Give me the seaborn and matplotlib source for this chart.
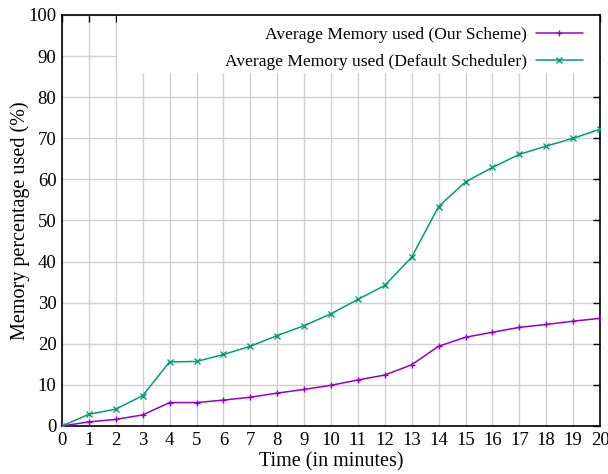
import matplotlib
matplotlib.use("Agg")
import matplotlib.pyplot as plt
from matplotlib.patches import Rectangle
import seaborn as sns
import pandas as pd

minutes = list(range(21))
our_scheme = [0, 1.0, 1.6, 2.7, 5.7, 5.7, 6.3, 7.0, 8.0, 8.9, 9.9, 11.2, 12.4, 14.9, 19.4, 21.6, 22.8, 24.0, 24.7, 25.5, 26.2]
default_sched = [0, 2.85, 4.1, 7.4, 15.6, 15.7, 17.4, 19.4, 22.0, 24.4, 27.3, 30.8, 34.2, 41.1, 53.4, 59.4, 62.9, 66.1, 68.1, 70.0, 72.2]
labels = ["Average Memory used (Our Scheme)", "Average Memory used (Default Scheduler)"]
colors = ["#9400d3", "#009e73"]
markers = ["+", "x"]

sns.set_style("white")
plt.rcParams['font.family'] = ['Liberation Serif', 'DejaVu Serif']
plt.rcParams['text.color'] = 'black'
plt.rcParams['axes.labelcolor'] = 'black'
plt.rcParams['xtick.color'] = 'black'
plt.rcParams['ytick.color'] = 'black'

fig = plt.figure(figsize=(6.08, 4.74), dpi=100)
ax = fig.add_axes([62/608, 1 - 426/474, (600-62)/608, (426-15)/474])

for vals, lab, col, mk in zip([our_scheme, default_sched], labels, colors, markers):
    df = pd.DataFrame({"t": minutes, "v": vals})
    sns.lineplot(data=df, x="t", y="v", color=col, marker=mk, label=lab,
                 linewidth=1.1, markersize=5, markeredgewidth=1.0,
                 markeredgecolor=col, markerfacecolor=col, ax=ax, zorder=3)

ax.set_xlim(0, 20)
ax.set_ylim(0, 100)
ax.set_xticks(range(0, 21))
ax.set_yticks(range(0, 101, 10))
ax.grid(True, color="#d0d0d0", linewidth=1.0)
ax.set_axisbelow(True)
# white area behind the key (gnuplot opaque key)
ax.add_patch(Rectangle((2.03, 86.0), 17.97, 14.0, facecolor="white",
                       edgecolor="none", zorder=0.8))
ax.tick_params(direction="in", length=5, width=1, top=True, right=True,
               labelsize=13.5, pad=4, color="black", labelcolor="black")
for sp in ax.spines.values():
    sp.set_color("black")
    sp.set_linewidth(1.2)

ax.set_xlabel("Time (in minutes)", fontsize=14.5, labelpad=3, color="black")
ax.set_ylabel("Memory percentage used (%)", fontsize=14.5, labelpad=-1, color="black")

leg = ax.legend(loc="upper right", bbox_to_anchor=((583-62)/538, 1 - (27-15)/411),
                markerfirst=False, frameon=False, fontsize=12.6,
                handlelength=2.7, handletextpad=0.5, borderpad=0,
                borderaxespad=0, labelspacing=0.62)
for t in leg.get_texts():
    t.set_ha("right")
    t.set_color("black")
leg._legend_box.align = "right"

fig.savefig("out.png", dpi=100)
